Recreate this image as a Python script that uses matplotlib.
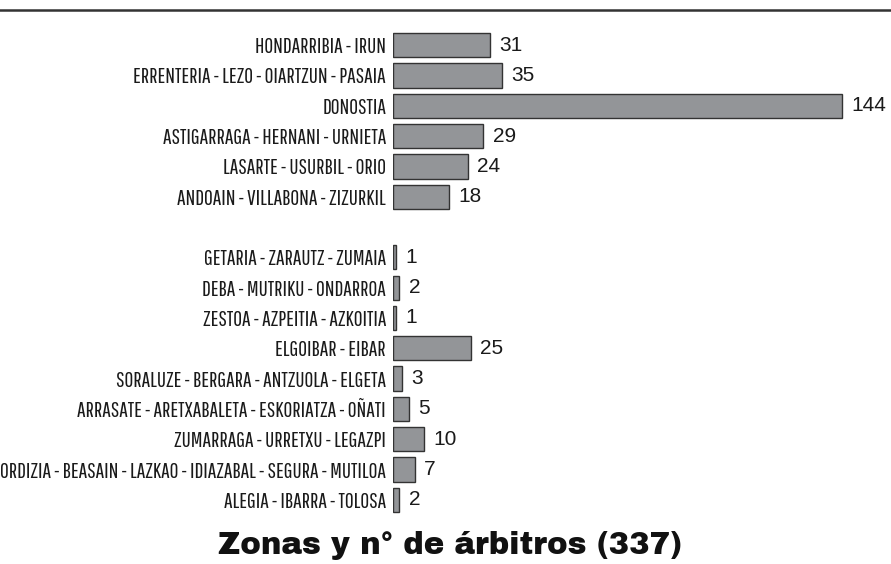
import matplotlib.pyplot as plt
from matplotlib import font_manager

# zonas (grupo 1 y grupo 2) y numero de arbitros
zonas_1 = [
    "HONDARRIBIA - IRUN",
    "ERRENTERIA - LEZO - OIARTZUN - PASAIA",
    "DONOSTIA",
    "ASTIGARRAGA - HERNANI - URNIETA",
    "LASARTE - USURBIL - ORIO",
    "ANDOAIN - VILLABONA - ZIZURKIL",
]
arbitros_1 = [31, 35, 144, 29, 24, 18]

zonas_2 = [
    "GETARIA - ZARAUTZ - ZUMAIA",
    "DEBA - MUTRIKU - ONDARROA",
    "ZESTOA - AZPEITIA - AZKOITIA",
    "ELGOIBAR - EIBAR",
    "SORALUZE - BERGARA - ANTZUOLA - ELGETA",
    "ARRASATE - ARETXABALETA - ESKORIATZA - OÑATI",
    "ZUMARRAGA - URRETXU - LEGAZPI",
    "ORDIZIA - BEASAIN - LAZKAO - IDIAZABAL - SEGURA - MUTILOA",
    "ALEGIA - IBARRA - TOLOSA",
]
arbitros_2 = [1, 2, 1, 25, 3, 5, 10, 7, 2]

titulo = "Zonas y n° de árbitros (337)"

names = {f.name for f in font_manager.fontManager.ttflist}


def pick(options, default="Liberation Sans"):
    for o in options:
        if o in names:
            return o
    return default


narrow = pick(["Liberation Sans Narrow", "Arial Narrow", "Pathway Gothic One", "Roboto Condensed",
               "Barlow Condensed", "Sofia Sans Extra Condensed", "Archivo Narrow",
               "PT Sans Narrow", "IBM Plex Sans Condensed", "Encode Sans Condensed"])
heavy = pick(["Archivo Black", "Arial Black", "Roboto Black", "Inter Black"])
heavy_weight = "normal" if heavy != "Liberation Sans" else "bold"

zonas = zonas_1 + zonas_2
valores = arbitros_1 + arbitros_2
pos = list(range(len(zonas_1))) + [len(zonas_1) + 1 + i for i in range(len(zonas_2))]

fig = plt.figure(figsize=(8.91, 5.64), dpi=100)
ax = fig.add_axes([393 / 891, 49 / 564, 1 - 393 / 891, 485 / 564])

ax.barh(pos, valores, height=0.8, color="#939598", edgecolor="#333333", linewidth=1.0)
for p, v in zip(pos, valores):
    ax.text(v + 3.0, p, str(v), va="center", ha="left", fontsize=15,
            family="Liberation Sans", color="#1a1a1a")

ax.set_xlim(0, 498 / 3.12)
ax.set_ylim(15.5, -0.5)
ax.set_yticks(pos)
labels = ax.set_yticklabels(zonas, family=narrow, fontsize=12, color="#1a1a1a")
ax.tick_params(axis="y", length=0, pad=5)
ax.set_xticks([])
for s in ax.spines.values():
    s.set_visible(False)

# linea superior
fig.add_artist(plt.Line2D([0, 1], [1 - 10 / 564, 1 - 10 / 564], color="#333333", lw=1.8))

tit = fig.text(450 / 891, 1 - 546 / 564, titulo, ha="center", va="center",
               fontsize=24, fontweight=heavy_weight, family=heavy, color="#111111")

# ajustar tamanos para que la etiqueta mas larga y el titulo ocupen su ancho
fig.canvas.draw()
r = fig.canvas.get_renderer()
wmax = max(t.get_window_extent(r).width for t in labels)
fs = min(16, 12 * 383 / wmax)
for t in labels:
    t.set_fontsize(fs)
wt = tit.get_window_extent(r).width
tit.set_fontsize(24 * 465 / wt)

fig.savefig("out.png", dpi=100)
